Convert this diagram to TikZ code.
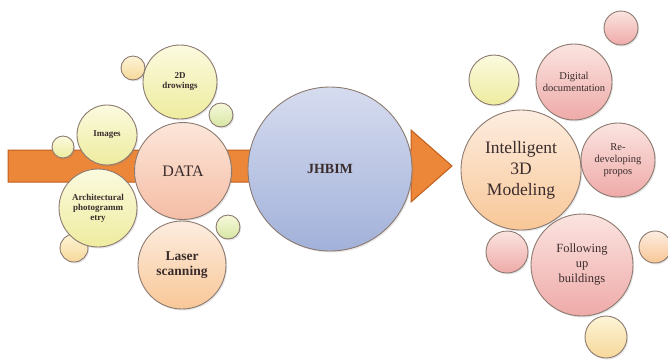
\documentclass[tikz,border=0pt]{standalone}
\usepackage{fontspec}
\setmainfont{Liberation Serif}
\usetikzlibrary{shadows}
\definecolor{txt}{HTML}{3A2C2C}
\definecolor{edge}{HTML}{8C7A70}
\definecolor{blueT}{HTML}{D6DCEF}
\definecolor{blueB}{HTML}{A2B1DA}
\definecolor{yelT}{HTML}{FBFADF}
\definecolor{yelB}{HTML}{EEEC9E}
\definecolor{ygT}{HTML}{F7F8DA}
\definecolor{ygB}{HTML}{D6E6A4}
\definecolor{orT}{HTML}{FDF4D6}
\definecolor{orB}{HTML}{F6D89A}
\definecolor{pcT}{HTML}{FDEDE0}
\definecolor{pcB}{HTML}{F8C797}
\definecolor{pkT}{HTML}{FBE4E0}
\definecolor{pkB}{HTML}{EEAAA8}
\definecolor{dtT}{HTML}{FCE6DA}
\definecolor{dtB}{HTML}{F5BDA5}
\tikzset{
  bub/.style={circle, draw=edge, line width=0.9pt, inner sep=0pt, minimum size=#1,
    align=center, text=txt, drop shadow={shadow xshift=1.2pt, shadow yshift=-1.5pt, opacity=0.2}},
  yel/.style={top color=yelT, bottom color=yelB},
  yelg/.style={top color=ygT, bottom color=ygB},
  ora/.style={top color=orT, bottom color=orB},
  pch/.style={top color=pcT, bottom color=pcB},
  pnk/.style={top color=pkT, bottom color=pkB},
  blu/.style={top color=blueT, bottom color=blueB},
  dat/.style={top color=dtT, bottom color=dtB},
}
\begin{document}
\begin{tikzpicture}[x=1pt,y=-1pt]
\useasboundingbox (0,0) rectangle (668,360);
% arrow
\draw[draw={rgb,255:red,190;green,95;blue,30}, line width=1pt, fill={rgb,255:red,236;green,134;blue,56}]
  (8,150) -- (411,150) -- (411,130) -- (452,166) -- (411,202) -- (411,182) -- (8,182) -- cycle;
% left cluster
\node[bub=24, ora] (s1) at (133,68) {};
\node[bub=24, yelg] (s2) at (221,115) {};
\node[bub=74, yel, font=\bfseries\fontsize{9}{10}\selectfont] (d2) at (180,82) {2D\\drowings};
\node[bub=22, yel] (s3) at (63,147) {};
\node[bub=60, yel, font=\bfseries\fontsize{9}{10}\selectfont] (img) at (107,135) {Images};
\node[bub=28, ora] (s4) at (74,248) {};
\node[bub=78, yel, font=\bfseries\fontsize{9}{10}\selectfont] (arch) at (98,208) {Architectural\\photogramm\\etry};
\node[bub=24, yelg] (s5) at (228,227) {};
\node[bub=97, dat, font=\fontsize{16}{18}\selectfont] (data) at (183,171) {DATA};
\node[bub=88, pch, font=\bfseries\fontsize{13.5}{15}\selectfont] (laser) at (182,265) {Laser\\scanning};
% center
\node[bub=164, blu, font=\bfseries\fontsize{14}{16}\selectfont] (jh) at (330,169) {JHBIM};
% right cluster
\node[bub=50, yel] (s6) at (494,80) {};
\node[bub=34, pnk] (s7) at (621,28) {};
\node[bub=76, pnk, font=\fontsize{10.5}{12}\selectfont] (dig) at (574,82) {Digital\\documentation};
\node[bub=120, pch, font=\fontsize{17.5}{21}\selectfont] (int) at (521,170) {Intelligent\\3D\\Modeling};
\node[bub=74, pnk, font=\fontsize{10.5}{12}\selectfont] (red) at (618,160) {Re-\\developing\\propos};
\node[bub=42, pnk] (s8) at (507,252) {};
\node[bub=32, pch] (s9) at (655,247) {};
\node[bub=102, pnk, font=\fontsize{12.5}{15}\selectfont] (fol) at (582,265) {Following\\up\\buildings};
\node[bub=42, ora] (s10) at (606,337) {};
\end{tikzpicture}
\end{document}
